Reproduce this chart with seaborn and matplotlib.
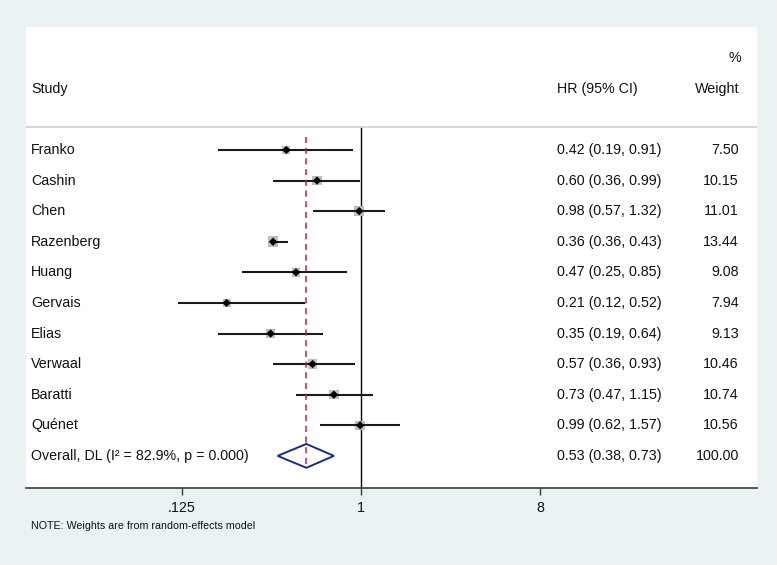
import numpy as np
import pandas as pd
import matplotlib
matplotlib.use("Agg")
import matplotlib.pyplot as plt
import seaborn as sns
from matplotlib.transforms import blended_transform_factory
from matplotlib.patches import Polygon

# ---------------- data ----------------
studies = ["Franko", "Cashin", "Chen", "Razenberg", "Huang", "Gervais",
           "Elias", "Verwaal", "Baratti", "Quénet"]
hr = [0.42, 0.60, 0.98, 0.36, 0.47, 0.21, 0.35, 0.57, 0.73, 0.99]
ci_low = [0.19, 0.36, 0.57, 0.36, 0.25, 0.12, 0.19, 0.36, 0.47, 0.62]
ci_high = [0.91, 0.99, 1.32, 0.43, 0.85, 0.52, 0.64, 0.93, 1.15, 1.57]
weights = [7.50, 10.15, 11.01, 13.44, 9.08, 7.94, 9.13, 10.46, 10.74, 10.56]

overall_label = "Overall, DL (I² = 82.9%, p = 0.000)"
overall_hr = 0.53
overall_low = 0.38
overall_high = 0.73
overall_weight = 100.00

tick_values = [0.125, 1, 8]
tick_labels = [".125", "1", "8"]
note_text = "NOTE: Weights are from random-effects model"

# ---------------- style ----------------
sns.set_style("white")
plt.rcParams["font.family"] = ["Liberation Sans", "DejaVu Sans"]

BG = "#EAF2F3"
fig = plt.figure(figsize=(7.77, 5.65), dpi=100, facecolor=BG)
ax = fig.add_axes([26 / 777, 1 - 488 / 565, 731 / 777, 461 / 565])
ax.set_facecolor("white")

n = len(studies)
df = pd.DataFrame({"study": studies, "hr": hr, "lo": ci_low, "hi": ci_high,
                   "w": weights, "row": np.arange(n)})

# confidence intervals
ax.hlines(df["row"], df["lo"], df["hi"], color="#1a1a1a", lw=1.5, zorder=3)

# weight squares (area proportional to weight)
k = 4.3
sns.scatterplot(data=df, x="hr", y="row", size="w",
                sizes=(k * min(weights), k * max(weights)),
                marker="s", color="#BDBDBD", edgecolor="none",
                legend=False, ax=ax, zorder=2)
# point estimates
sns.scatterplot(data=df, x="hr", y="row", marker="D", s=18,
                color="black", edgecolor="none", legend=False, ax=ax, zorder=4)

# overall diamond
yo = n
half = 0.39
diamond = Polygon([(overall_low, yo), (overall_hr, yo - half),
                   (overall_high, yo), (overall_hr, yo + half)],
                  closed=True, fill=False, edgecolor="#1B2A84", lw=1.4, zorder=4)
ax.add_patch(diamond)

# reference lines
ax.vlines(1, -0.75, 12, color="black", lw=1.0, zorder=1)
ax.vlines(overall_hr, -0.42, yo + half, color="#B5263A", lw=1.1,
          linestyles=(0, (4, 3)), zorder=5)

# axes scales
ax.set_xscale("log", base=2)
ax.set_xlim(2 ** -5.614, 2 ** 6.637)
ax.set_ylim(11.05, -4.02)
ax.set_xticks(tick_values)
ax.set_xticklabels(tick_labels)
ax.minorticks_off()
ax.set_yticks([])
ax.set_xlabel("")
ax.set_ylabel("")
for s in ["top", "left", "right"]:
    ax.spines[s].set_visible(False)
ax.spines["bottom"].set_color("#3a3a3a")
ax.spines["bottom"].set_linewidth(1.2)
ax.tick_params(axis="x", direction="out", length=5, width=1.0, color="#3a3a3a",
               labelsize=10.3, labelcolor="#111111", pad=4, bottom=True)

# separator line below header
ax.axhline(-0.75, color="#CFCFCF", lw=1.2, zorder=1)

# text columns
tr = blended_transform_factory(ax.transAxes, ax.transData)
fs = 10.3
x_study = 5 / 731
x_hr = (557 - 26) / 731
x_w = (739 - 26) / 731
tc = "#111111"

ax.text(x_study, -2, "Study", transform=tr, ha="left", va="center", fontsize=fs, color=tc)
ax.text(x_hr, -2, "HR (95% CI)", transform=tr, ha="left", va="center", fontsize=fs, color=tc)
ax.text(x_w, -2, "Weight", transform=tr, ha="right", va="center", fontsize=fs, color=tc)
ax.text(x_w + 2 / 731, -3, "%", transform=tr, ha="right", va="center", fontsize=fs, color=tc)

for i in range(n):
    ax.text(x_study, i, studies[i], transform=tr, ha="left", va="center", fontsize=fs, color=tc)
    ax.text(x_hr, i, f"{hr[i]:.2f} ({ci_low[i]:.2f}, {ci_high[i]:.2f})", transform=tr,
            ha="left", va="center", fontsize=fs, color=tc)
    ax.text(x_w, i, f"{weights[i]:.2f}", transform=tr, ha="right", va="center",
            fontsize=fs, color=tc)

ax.text(x_study, yo, overall_label, transform=tr, ha="left", va="center", fontsize=fs, color=tc)
ax.text(x_hr, yo, f"{overall_hr:.2f} ({overall_low:.2f}, {overall_high:.2f})", transform=tr,
        ha="left", va="center", fontsize=fs, color=tc)
ax.text(x_w, yo, f"{overall_weight:.2f}", transform=tr, ha="right", va="center",
        fontsize=fs, color=tc)

fig.text(31 / 777, 1 - 526 / 565, note_text, ha="left", va="center", fontsize=7.7, color=tc)

fig.savefig("out.png", dpi=100, facecolor=BG)
